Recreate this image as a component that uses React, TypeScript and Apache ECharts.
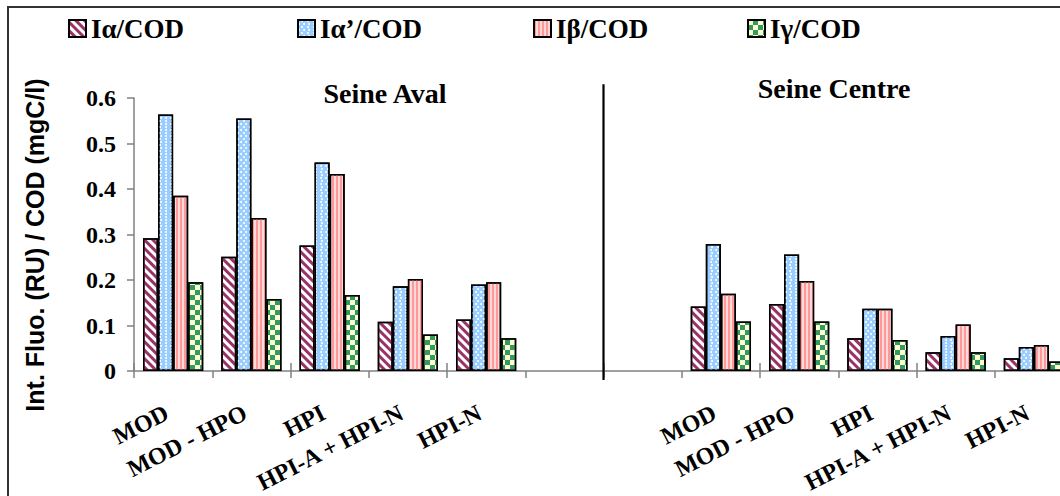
import React, { useEffect, useRef } from "react";
import * as echarts from "echarts";

const fractions = ["MOD", "MOD - HPO", "HPI", "HPI-A + HPI-N", "HPI-N"];
const siteTitles = ["Seine Aval", "Seine Centre"];
const seriesNames = ["Iα/COD", "Iα’/COD", "Iβ/COD", "Iγ/COD"];

const ialphaAval = [0.292, 0.251, 0.276, 0.108, 0.113];
const ialphaCentre = [0.142, 0.147, 0.072, 0.041, 0.028];
const ialphaPrimeAval = [0.564, 0.555, 0.458, 0.186, 0.19];
const ialphaPrimeCentre = [0.279, 0.256, 0.137, 0.077, 0.053];
const ibetaAval = [0.385, 0.336, 0.433, 0.202, 0.195];
const ibetaCentre = [0.17, 0.198, 0.137, 0.102, 0.057];
const igammaAval = [0.195, 0.158, 0.167, 0.08, 0.072];
const igammaCentre = [0.109, 0.109, 0.068, 0.041, 0.021];

const yTicks = [0, 0.1, 0.2, 0.3, 0.4, 0.5, 0.6];

const SERIF = '"Times New Roman", "Liberation Serif", serif';

export default function App() {
  const ref = useRef<HTMLDivElement>(null);
  useEffect(() => {
    document.body.style.margin = "0";
    const chart = echarts.init(ref.current!, null, { renderer: "svg" });
    const categories = [...fractions, "", "", ...fractions];
    const gap = ["-", "-"];
    const build = (a: number[], c: number[]) => [...a, ...gap, ...c];
    const decals: any[] = [
      {
        symbol: "rect",
        color: "#993366",
        backgroundColor: "#ffffff",
        dashArrayX: [1, 0],
        dashArrayY: [3, 3],
        rotation: Math.PI / 4,
      },
      {
        symbol: "circle",
        color: "#ffffff",
        backgroundColor: "#99ccff",
        symbolSize: 1,
        dashArrayX: [
          [2, 3],
          [0, 2.5, 2, 0.5],
        ],
        dashArrayY: [2, 1],
        rotation: 0,
      },
      {
        symbol: "rect",
        color: "#ff9999",
        backgroundColor: "#ffd8d8",
        dashArrayX: [2, 2],
        dashArrayY: [1, 0],
        rotation: 0,
      },
      {
        symbol: "rect",
        color: "#339966",
        backgroundColor: "#ffffcc",
        dashArrayX: [
          [5, 5],
          [0, 5, 5, 0],
        ],
        dashArrayY: [5, 0],
        rotation: 0,
      },
    ];
    const baseColors = ["#ffffff", "#99ccff", "#ffd8d8", "#ffffcc"];
    const values = [
      build(ialphaAval, ialphaCentre),
      build(ialphaPrimeAval, ialphaPrimeCentre),
      build(ibetaAval, ibetaCentre),
      build(igammaAval, igammaCentre),
    ];
    const legendLefts = [63, 292, 528, 742];

    const option: any = {
      animation: false,
      backgroundColor: "#ffffff",
      aria: { enabled: true, decal: { show: true } },
      grid: {
        left: 134,
        right: -13,
        top: 98,
        bottom: 125,
        containLabel: false,
        outerBoundsMode: "none",
      },
      legend: seriesNames.map((n, i) => ({
        data: [n],
        left: legendLefts[i],
        top: 10,
        itemWidth: 17,
        itemHeight: 17,
        icon: "rect",
        selectedMode: false,
        textStyle: {
          fontFamily: SERIF,
          fontWeight: "bold",
          fontSize: 27,
          color: "#000",
        },
      })),
      xAxis: [
        {
          type: "category",
          data: categories,
          position: "bottom",
          axisLine: { show: true, onZero: false, lineStyle: { color: "#808080", width: 1.5 } },
          axisTick: { show: true, inside: false, length: 7, lineStyle: { color: "#808080", width: 1.5 } },
          axisLabel: {
            interval: 0,
            rotate: 27,
            margin: 37,
            padding: [0, 7, 0, 0],
            fontFamily: SERIF,
            fontWeight: "bold",
            fontSize: 24,
            color: "#000",
          },
        },
        {
          type: "category",
          data: categories,
          position: "bottom",
          axisLine: { show: false },
          axisTick: { show: true, inside: true, length: 8, lineStyle: { color: "#808080", width: 1.5 } },
          axisLabel: { show: false },
        },
      ],
      yAxis: {
        type: "value",
        min: yTicks[0],
        max: yTicks[yTicks.length - 1],
        interval: 0.1,
        splitLine: { show: false },
        axisLine: { show: true, lineStyle: { color: "#808080", width: 1.5 } },
        axisTick: { show: true, length: 7, lineStyle: { color: "#808080", width: 1.5 } },
        axisLabel: {
          margin: 18,
          fontFamily: SERIF,
          fontWeight: "bold",
          fontSize: 24,
          color: "#000",
          formatter: (v: number) => (v === 0 ? "0" : v.toFixed(1)),
        },
      },
      series: seriesNames.map((n, i) => ({
        name: n,
        type: "bar",
        data: values[i],
        barGap: "0%",
        barCategoryGap: "23%",
        itemStyle: {
          color: baseColors[i],
          borderColor: "#000",
          borderWidth: 1.5,
          decal: decals[i],
        },
      })),
    };
    chart.setOption(option);

    const c5 = chart.convertToPixel({ xAxisIndex: 0 }, 5) as number;
    const c6 = chart.convertToPixel({ xAxisIndex: 0 }, 6) as number;
    const xd = (c5 + c6) / 2;
    const yTop = chart.convertToPixel({ yAxisIndex: 0 }, 0.63) as number;
    const y0 = chart.convertToPixel({ yAxisIndex: 0 }, 0) as number;

    chart.setOption({
      graphic: [
        {
          type: "rect",
          silent: true,
          shape: { x: 8, y: 7, width: 1200, height: 700 },
          style: { fill: "none", stroke: "#333", lineWidth: 2 },
          z: 100,
        },
        {
          type: "line",
          silent: true,
          shape: { x1: xd, y1: yTop, x2: xd, y2: y0 + 9 },
          style: { stroke: "#000", lineWidth: 2.2 },
          z: 100,
        },
        {
          type: "text",
          x: 385,
          y: 93,
          style: {
            text: siteTitles[0],
            fontFamily: SERIF,
            fontWeight: "bold",
            fontSize: 28,
            fill: "#000",
            align: "center",
            verticalAlign: "middle",
          },
        },
        {
          type: "text",
          x: 834,
          y: 88,
          style: {
            text: siteTitles[1],
            fontFamily: SERIF,
            fontWeight: "bold",
            fontSize: 28,
            fill: "#000",
            align: "center",
            verticalAlign: "middle",
          },
        },
        {
          type: "text",
          x: 35,
          y: 245,
          rotation: Math.PI / 2,
          style: {
            text: "Int. Fluo. (RU) / COD (mgC/l)",
            fontFamily: '"Liberation Sans", Arial, sans-serif',
            fontWeight: "bold",
            fontSize: 25,
            fill: "#000",
            align: "center",
            verticalAlign: "middle",
          },
        },
      ],
    });
    return () => chart.dispose();
  }, []);
  return <div ref={ref} style={{ width: 1060, height: 496 }} />;
}
